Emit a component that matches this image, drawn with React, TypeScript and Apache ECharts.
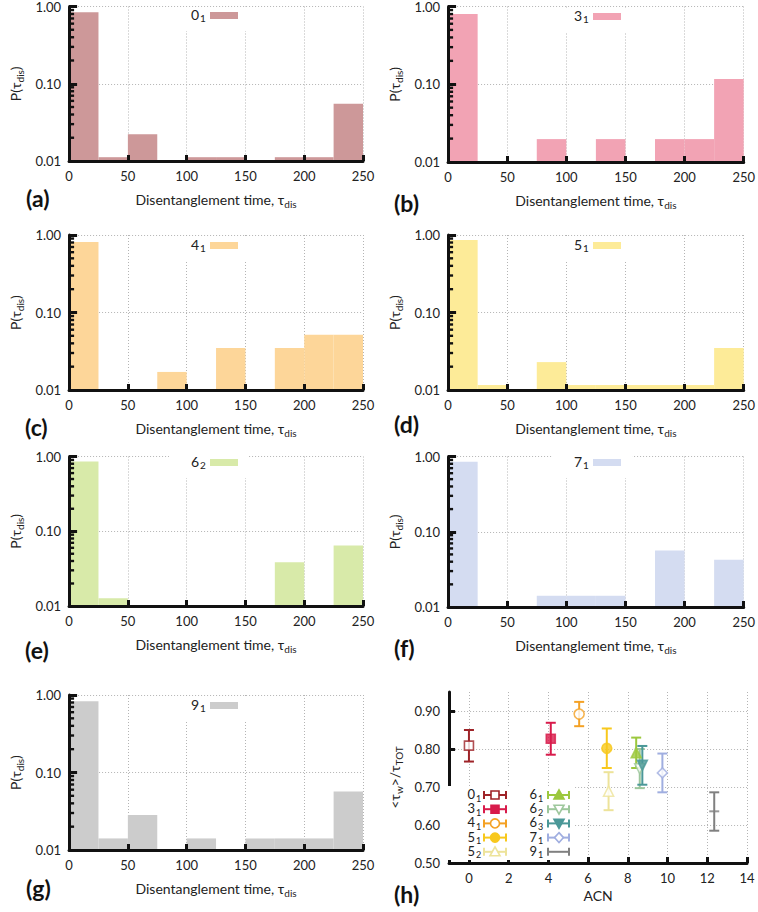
import React, { useEffect, useRef } from 'react';
import * as echarts from 'echarts';

const FONT = 'Lato, "Open Sans", sans-serif';

// ---- Histograms: P(tau_dis), bins of width 25 from 0 to 250 ----
const BIN_STARTS = [0, 25, 50, 75, 100, 125, 150, 175, 200, 225];
const BIN_WIDTH = 25;
const P_0_1 = [0.84, 0.0112, 0.0222, 0, 0.0112, 0.0112, 0, 0.0112, 0.0112, 0.055];
const P_3_1 = [0.80, 0, 0, 0.0197, 0, 0.0197, 0, 0.0197, 0.0197, 0.117];
const P_4_1 = [0.81, 0, 0, 0.0171, 0, 0.0348, 0, 0.0348, 0.0518, 0.0518];
const P_5_1 = [0.86, 0.0116, 0, 0.0229, 0.0116, 0.0116, 0.0116, 0.0116, 0.0116, 0.0347];
const P_6_2 = [0.86, 0.0127, 0, 0, 0, 0, 0, 0.0384, 0, 0.0644];
const P_7_1 = [0.85, 0, 0, 0.0141, 0.0141, 0.0141, 0, 0.0564, 0, 0.0424];
const P_9_1 = [0.83, 0.0141, 0.0282, 0, 0.0141, 0, 0.0141, 0.0141, 0.0141, 0.0569];
const HIST_VALUES = [P_0_1, P_3_1, P_4_1, P_5_1, P_6_2, P_7_1, P_9_1];
const HIST_KNOTS = [['0', '1'], ['3', '1'], ['4', '1'], ['5', '1'], ['6', '2'], ['7', '1'], ['9', '1']];
const HIST_COLORS = ['#cd9899', '#f2a3b4', '#fdd699', '#fdeb98', '#d8eaa9', '#d4dcf1', '#cccccc'];
const Y_MINOR_TICKS = [0.02, 0.03, 0.04, 0.05, 0.06, 0.07, 0.08, 0.09, 0.2, 0.3, 0.4, 0.5, 0.6, 0.7, 0.8, 0.9];

// ---- Panel (h): <tau_w>/tau_TOT vs ACN ----
const ACN_KNOTS = [['0', '1'], ['3', '1'], ['4', '1'], ['5', '1'], ['5', '2'], ['6', '1'], ['6', '2'], ['6', '3'], ['7', '1'], ['9', '1']];
const ACN = [0, 4.12, 5.55, 6.94, 7.03, 8.42, 8.6, 8.73, 9.74, 12.35];
const TAU_MEAN = [0.809, 0.827, 0.892, 0.802, 0.689, 0.790, 0.748, 0.757, 0.737, 0.636];
const TAU_LO = [0.767, 0.785, 0.860, 0.750, 0.639, 0.750, 0.697, 0.706, 0.686, 0.585];
const TAU_HI = [0.850, 0.869, 0.924, 0.854, 0.739, 0.830, 0.800, 0.808, 0.788, 0.686];
const ACN_TICKS = [0, 2, 4, 6, 8, 10, 12, 14];
const TAU_TICKS = [0.5, 0.6, 0.7, 0.8, 0.9];
const ACN_COLORS = ['#9e2328', '#d81b4b', '#f4a124', '#f8c81c', '#ede39a', '#9cc83e', '#9dc79c', '#4b9898', '#a0aee0', '#808080'];
const ACN_SYMBOLS = ['rect', 'rect', 'circle', 'circle', 'triangle', 'triangle', 'triangle', 'triangle', 'diamond', 'rect'];
const ACN_OPEN = [true, false, true, false, true, false, true, false, true, false];
const ACN_ROT = [0, 0, 0, 0, 0, 0, 180, 180, 0, 0];

// ---- Layout (page pixels) ----
const BOXES = [
  { x: 0, y: 0, w: 379, h: 220 }, { x: 379, y: 0, w: 379, h: 220 },
  { x: 0, y: 220, w: 379, h: 230 }, { x: 379, y: 220, w: 379, h: 230 },
  { x: 0, y: 450, w: 379, h: 230 }, { x: 379, y: 450, w: 379, h: 230 },
  { x: 0, y: 680, w: 379, h: 232 }, { x: 379, y: 680, w: 379, h: 232 },
];
const HIST_GRIDS = [
  { left: 57, top: 5, width: 306, height: 156 },
  { left: 440, top: 6, width: 307, height: 156 },
  { left: 57, top: 235, width: 306, height: 155 },
  { left: 440, top: 235, width: 307, height: 155 },
  { left: 57, top: 452, width: 306, height: 154 },
  { left: 440, top: 452, width: 307, height: 155 },
  { left: 57, top: 695, width: 306, height: 155 },
];
const H_GRID = { left: 440, top: 692, width: 307, height: 171 };
const PANEL_LABELS = [
  { t: '(a)', x: 26, y: 198 }, { t: '(b)', x: 394, y: 203 },
  { t: '(c)', x: 25, y: 427 }, { t: '(d)', x: 394, y: 424 },
  { t: '(e)', x: 25, y: 650 }, { t: '(f)', x: 394, y: 648 },
  { t: '(g)', x: 26, y: 888 }, { t: '(h)', x: 394, y: 894 },
];

const TXT = '#222';
const INK = '#111';
const GRIDC = '#b4b4b4';
const subRich = { s: { fontSize: 10, fontFamily: FONT, color: TXT, padding: [9, 0, 0, 0] } };

function knotText(main: string, sub: string, xr: number, y: number, fs: number) {
  return [
    { type: 'text', z: 30, x: xr - 6, y, style: { text: main, fontSize: fs, lineHeight: fs - 1, fontFamily: FONT, fill: TXT, align: 'right', verticalAlign: 'middle' } },
    { type: 'text', z: 30, x: xr - 5, y: y + 4, style: { text: sub, fontSize: fs - 4, lineHeight: fs - 5, fontFamily: FONT, fill: TXT, align: 'left', verticalAlign: 'middle' } },
  ];
}

function panelLabel(i: number) {
  const p = PANEL_LABELS[i]; const b = BOXES[i];
  return { type: 'text', z: 30, x: p.x - b.x, y: p.y - b.y, style: { text: p.t, fontSize: 23, fontWeight: 'bold', fontFamily: FONT, fill: INK, align: 'left', verticalAlign: 'middle' } };
}

function histOption(i: number) {
  const b = BOXES[i];
  const ga = HIST_GRIDS[i];
  const g = { left: ga.left - b.x, top: ga.top - b.y, width: ga.width, height: ga.height };
  const color = HIST_COLORS[i];
  const vals = HIST_VALUES[i];
  const gridLine = { show: true, lineStyle: { color: GRIDC, type: [1, 2], width: 1 } };
  return {
    animation: false,
    backgroundColor: '#fff',
    textStyle: { fontFamily: FONT },
    grid: [g],
    xAxis: [
      {
        type: 'value', min: 0, max: 250, interval: 50, position: 'bottom', z: 10,
        axisLine: { show: true, onZero: false, lineStyle: { color: INK, width: 3 } },
        axisTick: { show: true, inside: true, length: 6, lineStyle: { color: INK, width: 3 } },
        axisLabel: { color: TXT, fontSize: 13, fontFamily: FONT, margin: 8 },
        splitLine: { show: false },
        name: 'Disentanglement time, τ{s|dis}', nameLocation: 'middle', nameGap: 29,
        nameTextStyle: { fontSize: 14, fontFamily: FONT, color: TXT, rich: subRich },
      },
      {
        type: 'value', min: 0, max: 250, interval: 50, position: 'top', z: 0,
        axisLine: { show: false }, axisTick: { show: false }, axisLabel: { show: false }, splitLine: gridLine,
      },
    ],
    yAxis: [
      {
        type: 'log', logBase: 10, min: 0.01, max: 1, position: 'left', z: 10,
        axisLine: { show: true, onZero: false, lineStyle: { color: INK, width: 3 } },
        axisTick: { show: true, inside: true, length: 8, lineStyle: { color: INK, width: 3 } },
        axisLabel: { color: TXT, fontSize: 13, fontFamily: FONT, margin: 8, formatter: (v: number) => v.toFixed(2) },
        splitLine: { show: false },
        name: 'P(τ{s|dis})', nameLocation: 'middle', nameGap: 38, nameRotate: 90,
        nameTextStyle: { fontSize: 14, fontFamily: FONT, color: TXT, rich: subRich },
      },
      {
        type: 'log', logBase: 10, min: 0.01, max: 1, position: 'right', z: 0,
        axisLine: { show: false }, axisTick: { show: false }, axisLabel: { show: false }, splitLine: gridLine,
      },
    ],
    series: [
      {
        type: 'custom', xAxisIndex: 0, yAxisIndex: 0, z: 2,
        encode: { x: [0, 1], y: 2 },
        data: BIN_STARTS.map((s, j) => [s, s + BIN_WIDTH, vals[j]]).filter((d) => d[2] > 0),
        renderItem: (_p: any, api: any) => {
          const tl = api.coord([api.value(0), api.value(2)]);
          const br = api.coord([api.value(1), 0.01]);
          return { type: 'rect', shape: { x: tl[0], y: tl[1], width: br[0] - tl[0], height: br[1] - tl[1] }, style: { fill: color } };
        },
      },
      {
        type: 'custom', xAxisIndex: 0, yAxisIndex: 0, z: 20, clip: false,
        encode: { x: 0, y: 1 },
        data: Y_MINOR_TICKS.map((v) => [0, v]),
        renderItem: (_p: any, api: any) => {
          const p = api.coord([api.value(0), api.value(1)]);
          return { type: 'rect', shape: { x: p[0], y: p[1] - 1.2, width: 5, height: 2.4 }, style: { fill: INK } };
        },
      },
    ],
    graphic: {
      elements: [
        { type: 'rect', z: 1, silent: true, shape: { x: g.left + 112, y: g.top + 2, width: 80, height: 24 }, style: { fill: '#fff' } },
        ...knotText(HIST_KNOTS[i][0], HIST_KNOTS[i][1], g.left + 148, g.top + 9, 14),
        { type: 'rect', z: 30, shape: { x: g.left + 153, y: g.top + 7, width: 28, height: 7 }, style: { fill: color } },
        panelLabel(i),
      ],
    },
  };
}

function acnOption() {
  const b = BOXES[7];
  const g = { left: H_GRID.left - b.x, top: H_GRID.top - b.y, width: H_GRID.width, height: H_GRID.height };
  const gridLine = { show: true, lineStyle: { color: GRIDC, type: [1, 2], width: 1 } };
  const graphic: any[] = [];
  graphic.push({ type: 'rect', z: 1, silent: true, shape: { x: 445 - b.x, y: 786 - b.y, width: 130, height: 74 }, style: { fill: '#fff' } });
  ACN_KNOTS.forEach((kn, k) => {
    const row = k % 5; const col = Math.floor(k / 5);
    const y = 795 + row * 14.2 - b.y;
    const tr = [481, 543][col] - b.x;
    const lx = [[484, 506], [548, 569]][col].map((v) => v - b.x);
    const mx = [495, 559][col] - b.x;
    const c = ACN_COLORS[k];
    const st = { stroke: c, lineWidth: 2 };
    graphic.push(...knotText(kn[0], kn[1], tr, y - 1, 13));
    graphic.push({ type: 'line', z: 30, shape: { x1: lx[0], y1: y, x2: lx[1], y2: y }, style: st });
    graphic.push({ type: 'line', z: 30, shape: { x1: lx[0], y1: y - 4, x2: lx[0], y2: y + 4 }, style: st });
    graphic.push({ type: 'line', z: 30, shape: { x1: lx[1], y1: y - 4, x2: lx[1], y2: y + 4 }, style: st });
    if (k === ACN.length - 1) return;
    const mst = { fill: ACN_OPEN[k] ? '#fff' : c, stroke: c, lineWidth: 1.6 };
    const sym = ACN_SYMBOLS[k];
    if (sym === 'rect') graphic.push({ type: 'rect', z: 31, shape: { x: mx - 4, y: y - 4, width: 8, height: 8 }, style: mst });
    else if (sym === 'circle') graphic.push({ type: 'circle', z: 31, shape: { cx: mx, cy: y, r: 4.5 }, style: mst });
    else if (sym === 'triangle') {
      const pts = ACN_ROT[k] === 180 ? [[mx - 5, y - 4], [mx + 5, y - 4], [mx, y + 5]] : [[mx, y - 5], [mx - 5, y + 4], [mx + 5, y + 4]];
      graphic.push({ type: 'polygon', z: 31, shape: { points: pts }, style: mst });
    } else if (sym === 'diamond') graphic.push({ type: 'polygon', z: 31, shape: { points: [[mx, y - 5], [mx + 4.5, y], [mx, y + 5], [mx - 4.5, y]] }, style: mst });
  });
  graphic.push(panelLabel(7));
  return {
    animation: false,
    backgroundColor: '#fff',
    textStyle: { fontFamily: FONT },
    grid: [g],
    xAxis: [{
      type: 'value', min: -1, max: 14, position: 'bottom',
      axisLine: { show: true, onZero: false, lineStyle: { color: INK, width: 3 } },
      axisTick: { show: true, inside: true, length: 6, customValues: ACN_TICKS, lineStyle: { color: INK, width: 3 } },
      axisLabel: { customValues: ACN_TICKS, color: TXT, fontSize: 13, fontFamily: FONT, margin: 8 },
      splitLine: gridLine,
      name: 'ACN', nameLocation: 'middle', nameGap: 22, nameTextStyle: { fontSize: 14, fontFamily: FONT, color: TXT },
    }],
    yAxis: [{
      type: 'value', min: 0.5, max: 0.95, interval: 0.1, position: 'left',
      axisLine: { show: true, onZero: false, lineStyle: { color: INK, width: 3 } },
      axisTick: { show: true, inside: true, length: 6, customValues: TAU_TICKS, lineStyle: { color: INK, width: 3 } },
      axisLabel: { customValues: TAU_TICKS, color: TXT, fontSize: 13, fontFamily: FONT, margin: 9, formatter: (v: number) => v.toFixed(2) },
      splitLine: gridLine,
      name: '<τ{s|w}>/τ{s|TOT}', nameLocation: 'middle', nameGap: 38, nameRotate: 90,
      nameTextStyle: { fontSize: 14, fontFamily: FONT, color: TXT, rich: subRich },
    }],
    series: [
      {
        type: 'custom', z: 3,
        encode: { x: 0, y: [1, 2] },
        data: ACN.map((a, k) => [a, TAU_LO[k], TAU_HI[k]]),
        renderItem: (params: any, api: any) => {
          const top = api.coord([api.value(0), api.value(2)]);
          const bot = api.coord([api.value(0), api.value(1)]);
          const c = ACN_COLORS[params.dataIndex];
          const st = { stroke: c, lineWidth: 2 };
          return { type: 'group', children: [
            { type: 'line', shape: { x1: top[0], y1: top[1], x2: bot[0], y2: bot[1] }, style: st },
            { type: 'line', shape: { x1: top[0] - 5, y1: top[1], x2: top[0] + 5, y2: top[1] }, style: st },
            { type: 'line', shape: { x1: bot[0] - 5, y1: bot[1], x2: bot[0] + 5, y2: bot[1] }, style: st },
          ] };
        },
      },
      {
        type: 'scatter', z: 4,
        data: ACN.map((a, k) => {
          const c = ACN_COLORS[k];
          const isPlus = k === ACN.length - 1;
          return {
            value: [a, TAU_MEAN[k]], symbol: ACN_SYMBOLS[k], symbolRotate: ACN_ROT[k],
            symbolSize: isPlus ? [10, 2] : ACN_SYMBOLS[k] === 'rect' ? 9 : 10,
            itemStyle: isPlus ? { color: c, borderWidth: 0 } : { color: ACN_OPEN[k] ? '#fff' : c, borderColor: c, borderWidth: 1.6 },
          };
        }),
      },
    ],
    graphic: { elements: graphic },
  };
}

export default function App() {
  const refs = useRef<(HTMLDivElement | null)[]>([]);
  useEffect(() => {
    const charts: any[] = [];
    BOXES.forEach((_b, i) => {
      const el = refs.current[i];
      if (!el) return;
      const chart = echarts.init(el, null, { renderer: 'svg' });
      chart.setOption((i < 7 ? histOption(i) : acnOption()) as any);
      charts.push(chart);
    });
    return () => charts.forEach((c) => c.dispose());
  }, []);
  return (
    <div style={{ position: 'absolute', left: 0, top: 0, width: 758, height: 912, background: '#fff' }}>
      {BOXES.map((b, i) => (
        <div
          key={i}
          ref={(el) => { refs.current[i] = el; }}
          style={{ position: 'absolute', left: b.x, top: b.y, width: b.w, height: b.h }}
        />
      ))}
    </div>
  );
}
